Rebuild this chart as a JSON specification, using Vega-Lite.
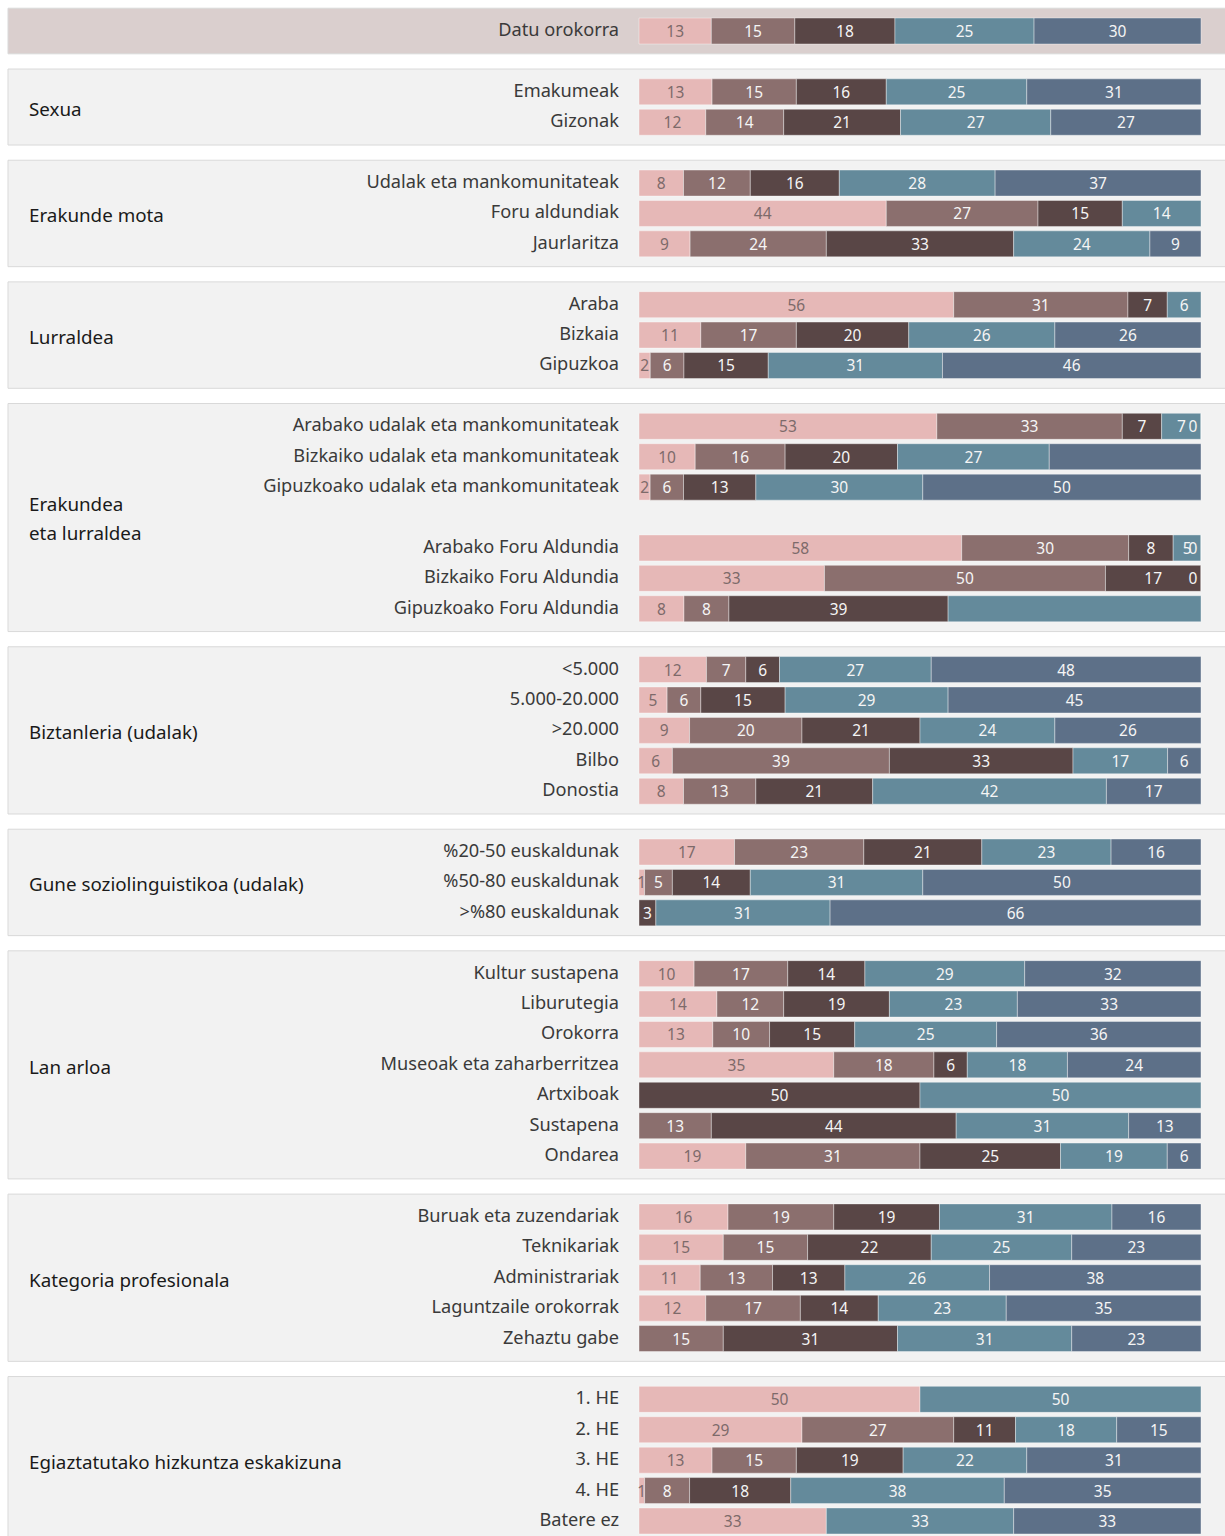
{
  "$schema": "https://vega.github.io/schema/vega-lite/v6.json",
  "width": 1218,
  "height": 1552,
  "padding": {"left": 7, "top": 0, "right": 0, "bottom": 0},
  "background": "#ffffff",
  "config": {"view": {"stroke": null}, "font": "Noto Sans"},
  "datasets": {
    "bars": [
      {"r": "Datu orokorra", "a": 13, "b": 15, "c": 18, "d": 25, "e": 30},
      {"r": "Emakumeak", "a": 13, "b": 15, "c": 16, "d": 25, "e": 31},
      {"r": "Gizonak", "a": 12, "b": 14, "c": 21, "d": 27, "e": 27},
      {"r": "Udalak eta mankomunitateak", "a": 8, "b": 12, "c": 16, "d": 28, "e": 37},
      {"r": "Foru aldundiak", "a": 44, "b": 27, "c": 15, "d": 14, "e": null},
      {"r": "Jaurlaritza", "a": 9, "b": 24, "c": 33, "d": 24, "e": 9},
      {"r": "Araba", "a": 56, "b": 31, "c": 7, "d": 6, "e": null},
      {"r": "Bizkaia", "a": 11, "b": 17, "c": 20, "d": 26, "e": 26},
      {"r": "Gipuzkoa", "a": 2, "b": 6, "c": 15, "d": 31, "e": 46},
      {"r": "Arabako udalak eta mankomunitateak", "a": 53, "b": 33, "c": 7, "d": 7, "e": 0},
      {"r": "Bizkaiko udalak eta mankomunitateak", "a": 10, "b": 16, "c": 20, "d": 27, "e": 27, "nl": "e"},
      {"r": "Gipuzkoako udalak eta mankomunitateak", "a": 2, "b": 6, "c": 13, "d": 30, "e": 50},
      {"r": "Arabako Foru Aldundia", "a": 58, "b": 30, "c": 8, "d": 5, "e": 0},
      {"r": "Bizkaiko Foru Aldundia", "a": 33, "b": 50, "c": 17, "d": 0, "e": null},
      {"r": "Gipuzkoako Foru Aldundia", "a": 8, "b": 8, "c": 39, "d": 45, "e": null, "nl": "d"},
      {"r": "<5.000", "a": 12, "b": 7, "c": 6, "d": 27, "e": 48},
      {"r": "5.000-20.000", "a": 5, "b": 6, "c": 15, "d": 29, "e": 45},
      {"r": ">20.000", "a": 9, "b": 20, "c": 21, "d": 24, "e": 26},
      {"r": "Bilbo", "a": 6, "b": 39, "c": 33, "d": 17, "e": 6},
      {"r": "Donostia", "a": 8, "b": 13, "c": 21, "d": 42, "e": 17},
      {"r": "%20-50 euskaldunak", "a": 17, "b": 23, "c": 21, "d": 23, "e": 16},
      {"r": "%50-80 euskaldunak", "a": 1, "b": 5, "c": 14, "d": 31, "e": 50},
      {"r": ">%80 euskaldunak", "a": null, "b": null, "c": 3, "d": 31, "e": 66},
      {"r": "Kultur sustapena", "a": 10, "b": 17, "c": 14, "d": 29, "e": 32},
      {"r": "Liburutegia", "a": 14, "b": 12, "c": 19, "d": 23, "e": 33},
      {"r": "Orokorra", "a": 13, "b": 10, "c": 15, "d": 25, "e": 36},
      {"r": "Museoak eta zaharberritzea", "a": 35, "b": 18, "c": 6, "d": 18, "e": 24},
      {"r": "Artxiboak", "a": null, "b": null, "c": 50, "d": 50, "e": null},
      {"r": "Sustapena", "a": null, "b": 13, "c": 44, "d": 31, "e": 13},
      {"r": "Ondarea", "a": 19, "b": 31, "c": 25, "d": 19, "e": 6},
      {"r": "Buruak eta zuzendariak", "a": 16, "b": 19, "c": 19, "d": 31, "e": 16},
      {"r": "Teknikariak", "a": 15, "b": 15, "c": 22, "d": 25, "e": 23},
      {"r": "Administrariak", "a": 11, "b": 13, "c": 13, "d": 26, "e": 38},
      {"r": "Laguntzaile orokorrak", "a": 12, "b": 17, "c": 14, "d": 23, "e": 35},
      {"r": "Zehaztu gabe", "a": null, "b": 15, "c": 31, "d": 31, "e": 23},
      {"r": "1. HE", "a": 50, "b": null, "c": null, "d": 50, "e": null},
      {"r": "2. HE", "a": 29, "b": 27, "c": 11, "d": 18, "e": 15},
      {"r": "3. HE", "a": 13, "b": 15, "c": 19, "d": 22, "e": 31},
      {"r": "4. HE", "a": 1, "b": 8, "c": 18, "d": 38, "e": 35},
      {"r": "Batere ez", "a": 33, "b": null, "c": null, "d": 33, "e": 33}
    ],
    "groups": [
      {"g": "Datu orokorra", "r": "Datu orokorra", "l": "Datu orokorra", "m": "Datu orokorra"},
      {"g": "Sexua", "r": "Emakumeak", "l": "Gizonak", "m": "Emakumeak"},
      {"g": "Erakunde mota", "r": "Udalak eta mankomunitateak", "l": "Jaurlaritza", "m": "Foru aldundiak"},
      {"g": "Lurraldea", "r": "Araba", "l": "Gipuzkoa", "m": "Bizkaia"},
      {"g": "Erakundea\neta lurraldea", "r": "Arabako udalak eta mankomunitateak", "l": "Gipuzkoako Foru Aldundia", "m": "Gipuzkoako udalak eta mankomunitateak"},
      {"g": "Biztanleria (udalak)", "r": "<5.000", "l": "Donostia", "m": ">20.000"},
      {"g": "Gune soziolinguistikoa (udalak)", "r": "%20-50 euskaldunak", "l": ">%80 euskaldunak", "m": "%50-80 euskaldunak"},
      {"g": "Lan arloa", "r": "Kultur sustapena", "l": "Ondarea", "m": "Museoak eta zaharberritzea"},
      {"g": "Kategoria profesionala", "r": "Buruak eta zuzendariak", "l": "Zehaztu gabe", "m": "Administrariak"},
      {"g": "Egiaztatutako hizkuntza eskakizuna", "r": "1. HE", "l": "Batere ez", "m": "3. HE"}
    ]
  },
  "layer": [
    {
      "data": {"name": "groups"},
      "mark": {"type": "rect", "stroke": "#d9d9d9", "strokeWidth": 1},
      "encoding": {
        "x": {"datum": -1.1228, "type": "quantitative", "scale": {"domain": [-1.1228, 1.0445], "nice": false, "zero": false}, "axis": null},
        "x2": {"datum": 1.1},
        "y": {"field": "r", "type": "nominal", "bandPosition": -0.25, "axis": null,
              "scale": {"type": "band", "paddingInner": 0, "paddingOuter": 0.52, "domain": ["Datu orokorra", "_1", "Emakumeak", "Gizonak", "_2", "Udalak eta mankomunitateak", "Foru aldundiak", "Jaurlaritza", "_3", "Araba", "Bizkaia", "Gipuzkoa", "_4", "Arabako udalak eta mankomunitateak", "Bizkaiko udalak eta mankomunitateak", "Gipuzkoako udalak eta mankomunitateak", "_5", "Arabako Foru Aldundia", "Bizkaiko Foru Aldundia", "Gipuzkoako Foru Aldundia", "_6", "<5.000", "5.000-20.000", ">20.000", "Bilbo", "Donostia", "_7", "%20-50 euskaldunak", "%50-80 euskaldunak", ">%80 euskaldunak", "_8", "Kultur sustapena", "Liburutegia", "Orokorra", "Museoak eta zaharberritzea", "Artxiboak", "Sustapena", "Ondarea", "_9", "Buruak eta zuzendariak", "Teknikariak", "Administrariak", "Laguntzaile orokorrak", "Zehaztu gabe", "_10", "1. HE", "2. HE", "3. HE", "4. HE", "Batere ez"]}},
        "y2": {"field": "l", "bandPosition": 1.25},
        "fill": {"condition": {"test": "datum.g == 'Datu orokorra'", "value": "#dacfce"}, "value": "#f2f2f2"}
      }
    },
    {
      "data": {"name": "bars"},
      "transform": [
        {"fold": ["a", "b", "c", "d", "e"], "as": ["k", "v"]},
        {"filter": "isValid(datum.v)"}
      ],
      "mark": {"type": "bar", "height": {"band": 0.855}, "stroke": "#ffffff", "strokeWidth": 0.7, "strokeOpacity": 0.55},
      "encoding": {
        "x": {"field": "v", "type": "quantitative", "stack": "normalize", "scale": {"domain": [-1.1228, 1.0445], "nice": false, "zero": false}, "axis": null},
        "y": {"field": "r", "type": "nominal", "axis": null,
              "scale": {"type": "band", "paddingInner": 0, "paddingOuter": 0.52, "domain": ["Datu orokorra", "_1", "Emakumeak", "Gizonak", "_2", "Udalak eta mankomunitateak", "Foru aldundiak", "Jaurlaritza", "_3", "Araba", "Bizkaia", "Gipuzkoa", "_4", "Arabako udalak eta mankomunitateak", "Bizkaiko udalak eta mankomunitateak", "Gipuzkoako udalak eta mankomunitateak", "_5", "Arabako Foru Aldundia", "Bizkaiko Foru Aldundia", "Gipuzkoako Foru Aldundia", "_6", "<5.000", "5.000-20.000", ">20.000", "Bilbo", "Donostia", "_7", "%20-50 euskaldunak", "%50-80 euskaldunak", ">%80 euskaldunak", "_8", "Kultur sustapena", "Liburutegia", "Orokorra", "Museoak eta zaharberritzea", "Artxiboak", "Sustapena", "Ondarea", "_9", "Buruak eta zuzendariak", "Teknikariak", "Administrariak", "Laguntzaile orokorrak", "Zehaztu gabe", "_10", "1. HE", "2. HE", "3. HE", "4. HE", "Batere ez"]}},
        "color": {"field": "k", "type": "nominal", "legend": null,
                  "scale": {"domain": ["a", "b", "c", "d", "e"], "range": ["#e6b8b7", "#8b6f6e", "#594646", "#648a9b", "#5d7088"]}},
        "order": {"field": "k", "type": "ordinal"}
      }
    },
    {
      "data": {"name": "bars"},
      "transform": [
        {"fold": ["a", "b", "c", "d", "e"], "as": ["k", "v"]},
        {"filter": "isValid(datum.v)"}
      ],
      "mark": {"type": "text", "fontSize": 15.5, "baseline": "middle", "align": "center", "dy": 1},
      "encoding": {
        "x": {"field": "v", "type": "quantitative", "stack": "normalize", "bandPosition": 0.5, "scale": {"domain": [-1.1228, 1.0445], "nice": false, "zero": false}, "axis": null},
        "y": {"field": "r", "type": "nominal", "axis": null,
              "scale": {"type": "band", "paddingInner": 0, "paddingOuter": 0.52, "domain": ["Datu orokorra", "_1", "Emakumeak", "Gizonak", "_2", "Udalak eta mankomunitateak", "Foru aldundiak", "Jaurlaritza", "_3", "Araba", "Bizkaia", "Gipuzkoa", "_4", "Arabako udalak eta mankomunitateak", "Bizkaiko udalak eta mankomunitateak", "Gipuzkoako udalak eta mankomunitateak", "_5", "Arabako Foru Aldundia", "Bizkaiko Foru Aldundia", "Gipuzkoako Foru Aldundia", "_6", "<5.000", "5.000-20.000", ">20.000", "Bilbo", "Donostia", "_7", "%20-50 euskaldunak", "%50-80 euskaldunak", ">%80 euskaldunak", "_8", "Kultur sustapena", "Liburutegia", "Orokorra", "Museoak eta zaharberritzea", "Artxiboak", "Sustapena", "Ondarea", "_9", "Buruak eta zuzendariak", "Teknikariak", "Administrariak", "Laguntzaile orokorrak", "Zehaztu gabe", "_10", "1. HE", "2. HE", "3. HE", "4. HE", "Batere ez"]}},
        "detail": {"field": "k", "type": "nominal"},
        "order": {"field": "k", "type": "ordinal"},
        "text": {"condition": {"test": "datum.nl == datum.k || datum.v == 0", "value": ""}, "field": "v", "type": "quantitative", "format": "d"},
        "color": {"condition": {"test": "datum.k == 'a'", "value": "#7d6a6a"}, "value": "#f5f5f5"}
      }
    },
    {
      "data": {"name": "bars"},
      "transform": [
        {"fold": ["a", "b", "c", "d", "e"], "as": ["k", "v"]},
        {"filter": "datum.v === 0"}
      ],
      "mark": {"type": "text", "fontSize": 15.5, "baseline": "middle", "align": "center", "dy": 1, "dx": -8, "color": "#f5f5f5"},
      "encoding": {
        "x": {"datum": 1, "type": "quantitative", "scale": {"domain": [-1.1228, 1.0445], "nice": false, "zero": false}, "axis": null},
        "y": {"field": "r", "type": "nominal", "axis": null,
              "scale": {"type": "band", "paddingInner": 0, "paddingOuter": 0.52, "domain": ["Datu orokorra", "_1", "Emakumeak", "Gizonak", "_2", "Udalak eta mankomunitateak", "Foru aldundiak", "Jaurlaritza", "_3", "Araba", "Bizkaia", "Gipuzkoa", "_4", "Arabako udalak eta mankomunitateak", "Bizkaiko udalak eta mankomunitateak", "Gipuzkoako udalak eta mankomunitateak", "_5", "Arabako Foru Aldundia", "Bizkaiko Foru Aldundia", "Gipuzkoako Foru Aldundia", "_6", "<5.000", "5.000-20.000", ">20.000", "Bilbo", "Donostia", "_7", "%20-50 euskaldunak", "%50-80 euskaldunak", ">%80 euskaldunak", "_8", "Kultur sustapena", "Liburutegia", "Orokorra", "Museoak eta zaharberritzea", "Artxiboak", "Sustapena", "Ondarea", "_9", "Buruak eta zuzendariak", "Teknikariak", "Administrariak", "Laguntzaile orokorrak", "Zehaztu gabe", "_10", "1. HE", "2. HE", "3. HE", "4. HE", "Batere ez"]}},
        "text": {"field": "v", "type": "quantitative", "format": "d"}
      }
    },
    {
      "data": {"name": "bars"},
      "mark": {"type": "text", "fontSize": 18.2, "align": "right", "baseline": "middle", "dx": -20, "color": "#3a3a3a"},
      "encoding": {
        "x": {"datum": 0, "type": "quantitative", "scale": {"domain": [-1.1228, 1.0445], "nice": false, "zero": false}, "axis": null},
        "y": {"field": "r", "type": "nominal", "axis": null,
              "scale": {"type": "band", "paddingInner": 0, "paddingOuter": 0.52, "domain": ["Datu orokorra", "_1", "Emakumeak", "Gizonak", "_2", "Udalak eta mankomunitateak", "Foru aldundiak", "Jaurlaritza", "_3", "Araba", "Bizkaia", "Gipuzkoa", "_4", "Arabako udalak eta mankomunitateak", "Bizkaiko udalak eta mankomunitateak", "Gipuzkoako udalak eta mankomunitateak", "_5", "Arabako Foru Aldundia", "Bizkaiko Foru Aldundia", "Gipuzkoako Foru Aldundia", "_6", "<5.000", "5.000-20.000", ">20.000", "Bilbo", "Donostia", "_7", "%20-50 euskaldunak", "%50-80 euskaldunak", ">%80 euskaldunak", "_8", "Kultur sustapena", "Liburutegia", "Orokorra", "Museoak eta zaharberritzea", "Artxiboak", "Sustapena", "Ondarea", "_9", "Buruak eta zuzendariak", "Teknikariak", "Administrariak", "Laguntzaile orokorrak", "Zehaztu gabe", "_10", "1. HE", "2. HE", "3. HE", "4. HE", "Batere ez"]}},
        "text": {"field": "r", "type": "nominal"}
      }
    },
    {
      "data": {"name": "groups"},
      "transform": [{"filter": "datum.g != 'Datu orokorra' && datum.g != 'Sexua' && datum.m != 'Gipuzkoako udalak eta mankomunitateak'"}],
      "mark": {"type": "text", "fontSize": 18.8, "align": "left", "baseline": "middle", "dy": 3, "color": "#1a1a1a"},
      "encoding": {
        "x": {"datum": -1.0854, "type": "quantitative", "scale": {"domain": [-1.1228, 1.0445], "nice": false, "zero": false}, "axis": null},
        "y": {"field": "m", "type": "nominal", "axis": null,
              "scale": {"type": "band", "paddingInner": 0, "paddingOuter": 0.52, "domain": ["Datu orokorra", "_1", "Emakumeak", "Gizonak", "_2", "Udalak eta mankomunitateak", "Foru aldundiak", "Jaurlaritza", "_3", "Araba", "Bizkaia", "Gipuzkoa", "_4", "Arabako udalak eta mankomunitateak", "Bizkaiko udalak eta mankomunitateak", "Gipuzkoako udalak eta mankomunitateak", "_5", "Arabako Foru Aldundia", "Bizkaiko Foru Aldundia", "Gipuzkoako Foru Aldundia", "_6", "<5.000", "5.000-20.000", ">20.000", "Bilbo", "Donostia", "_7", "%20-50 euskaldunak", "%50-80 euskaldunak", ">%80 euskaldunak", "_8", "Kultur sustapena", "Liburutegia", "Orokorra", "Museoak eta zaharberritzea", "Artxiboak", "Sustapena", "Ondarea", "_9", "Buruak eta zuzendariak", "Teknikariak", "Administrariak", "Laguntzaile orokorrak", "Zehaztu gabe", "_10", "1. HE", "2. HE", "3. HE", "4. HE", "Batere ez"]}},
        "text": {"field": "g", "type": "nominal"}
      }
    },
    {
      "data": {"name": "groups"},
      "transform": [{"filter": "datum.g == 'Sexua' || datum.m == 'Gipuzkoako udalak eta mankomunitateak'"}],
      "mark": {"type": "text", "fontSize": 18.8, "align": "left", "baseline": "middle", "dy": 3, "color": "#1a1a1a", "lineBreak": "\n", "lineHeight": 29},
      "encoding": {
        "x": {"datum": -1.0854, "type": "quantitative", "scale": {"domain": [-1.1228, 1.0445], "nice": false, "zero": false}, "axis": null},
        "y": {"field": "m", "type": "nominal", "bandPosition": 1, "axis": null,
              "scale": {"type": "band", "paddingInner": 0, "paddingOuter": 0.52, "domain": ["Datu orokorra", "_1", "Emakumeak", "Gizonak", "_2", "Udalak eta mankomunitateak", "Foru aldundiak", "Jaurlaritza", "_3", "Araba", "Bizkaia", "Gipuzkoa", "_4", "Arabako udalak eta mankomunitateak", "Bizkaiko udalak eta mankomunitateak", "Gipuzkoako udalak eta mankomunitateak", "_5", "Arabako Foru Aldundia", "Bizkaiko Foru Aldundia", "Gipuzkoako Foru Aldundia", "_6", "<5.000", "5.000-20.000", ">20.000", "Bilbo", "Donostia", "_7", "%20-50 euskaldunak", "%50-80 euskaldunak", ">%80 euskaldunak", "_8", "Kultur sustapena", "Liburutegia", "Orokorra", "Museoak eta zaharberritzea", "Artxiboak", "Sustapena", "Ondarea", "_9", "Buruak eta zuzendariak", "Teknikariak", "Administrariak", "Laguntzaile orokorrak", "Zehaztu gabe", "_10", "1. HE", "2. HE", "3. HE", "4. HE", "Batere ez"]}},
        "text": {"field": "g", "type": "nominal"}
      }
    }
  ]
}
